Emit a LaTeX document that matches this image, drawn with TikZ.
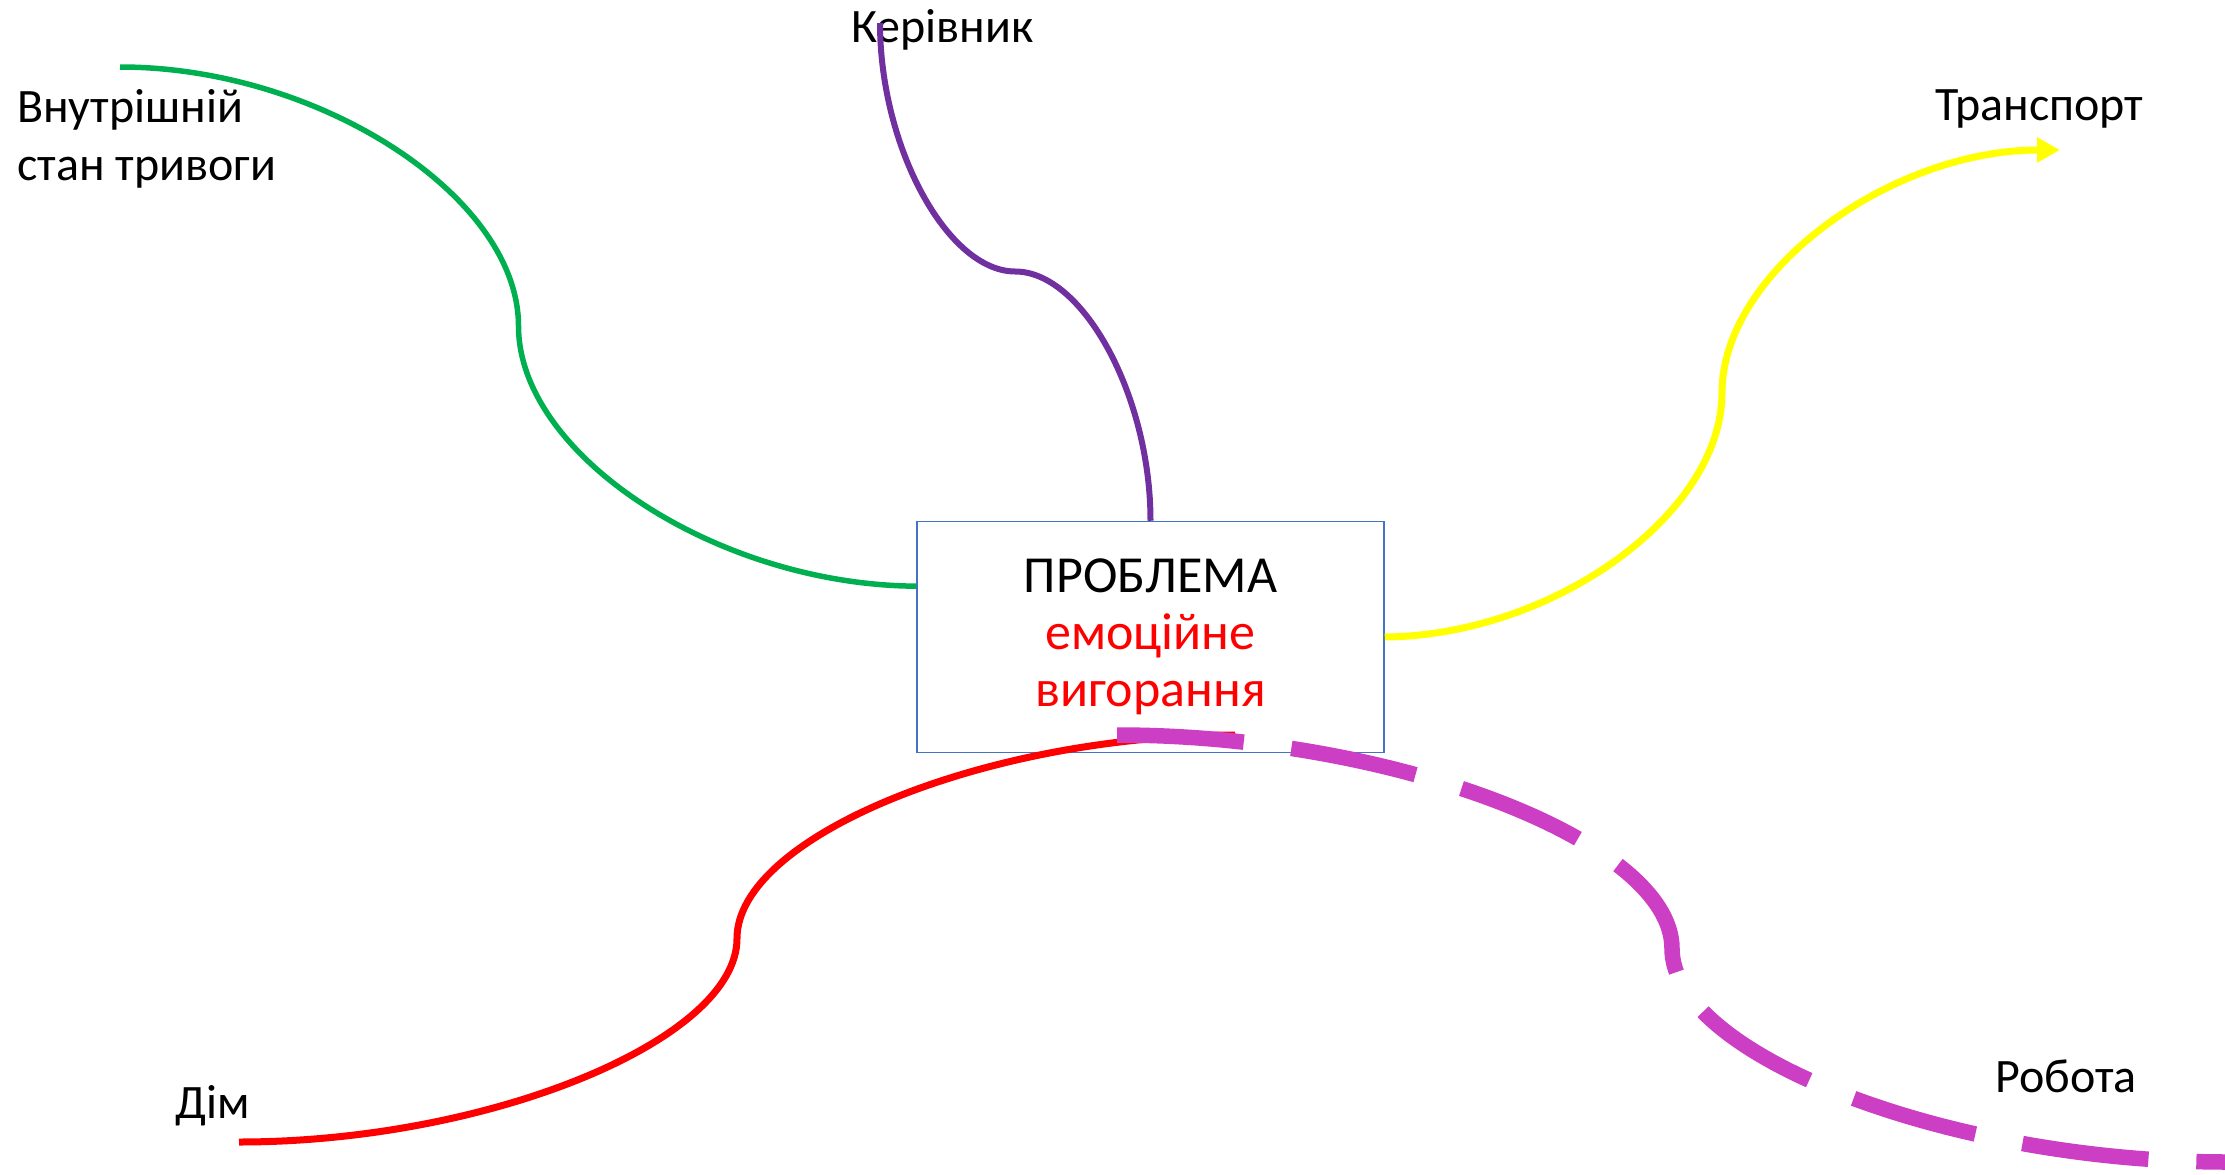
\documentclass[tikz,border=0pt]{standalone}
\usepackage{fontspec}
\setmainfont{Carlito}
\usetikzlibrary{arrows.meta,calc}
\definecolor{boxblue}{HTML}{4472C4}
\definecolor{cgreen}{HTML}{00B050}
\definecolor{cpurple}{HTML}{7030A0}
\definecolor{cyellow}{HTML}{FFFF00}
\definecolor{cred}{HTML}{FF0000}
\definecolor{cmagenta}{HTML}{CC3EC4}
\tikzset{
  centralbox/.style={draw=boxblue, fill=white, line width=1.5pt, minimum width=467pt, minimum height=231pt,
    inner sep=0pt, align=center, font=\fontsize{52}{57}\selectfont},
  lbl/.style={anchor=base west, inner sep=0pt, font=\fontsize{48}{58}\selectfont},
  conn/.style={line width=6pt},
}
\begin{document}
\begin{tikzpicture}[x=1pt,y=-1pt]
\useasboundingbox (0,0) rectangle (2225,1175);
\node[centralbox] (p) at (1150.5,637) {ПРОБЛЕМА\\\textcolor{cred}{емоційне}\\\textcolor{cred}{вигорання}};
\node[lbl, align=left] (anx) at (17,180) {Внутрішній\\стан тривоги};
\node[lbl] (ker) at (851,42) {Керівник};
\node[lbl] (tr) at (1935,120) {Транспорт};
\node[lbl] (rob) at (1995,1092) {Робота};
\node[lbl] (dim) at (175,1118) {Дім};
\coordinate (g0) at (120,67);
\coordinate (g1) at ($(p.north west)!0.2814!(p.south west)$);
\coordinate (u0) at (880,23);
\coordinate (y1) at (2060,150);
\coordinate (r0) at (239,1142);
\coordinate (r1) at (1235,735);
\coordinate (m0) at (1117,735);
\coordinate (m1) at (2227,1162);
% green
\draw[conn, draw=cgreen, line width=5.5pt] (g0) .. controls (319,67) and (518.5,196.5) .. (518.5,326)
   .. controls (518.5,455.5) and (717.75,585) .. (g1);
% purple
\draw[conn, draw=cpurple] (u0) .. controls (880,147.25) and (947.6,271.5) .. (1015.25,271.5)
   .. controls (1082.9,271.5) and (1150.5,395.75) .. (p.north);
% yellow
\draw[conn, draw=cyellow, line width=7pt, -{Triangle[length=23pt,width=24pt]}] (p.east) .. controls (1553,635.5) and (1722,514.1) .. (1722,392.75)
   .. controls (1722,271.4) and (1891,150) .. (y1);
% red
\draw[conn, draw=cred, line width=7pt] (r0) .. controls (488,1142) and (737,1040.25) .. (737,938.5)
   .. controls (737,836.75) and (986,735) .. (r1);
% magenta dashed
\draw[draw=cmagenta, line width=15.5pt, dash pattern=on 127pt off 48pt] (m0) .. controls (1394.5,735) and (1672,841.75) .. (1672,948.5)
   .. controls (1672,1055.25) and (1949.5,1162) .. (m1);
\end{tikzpicture}
\end{document}
